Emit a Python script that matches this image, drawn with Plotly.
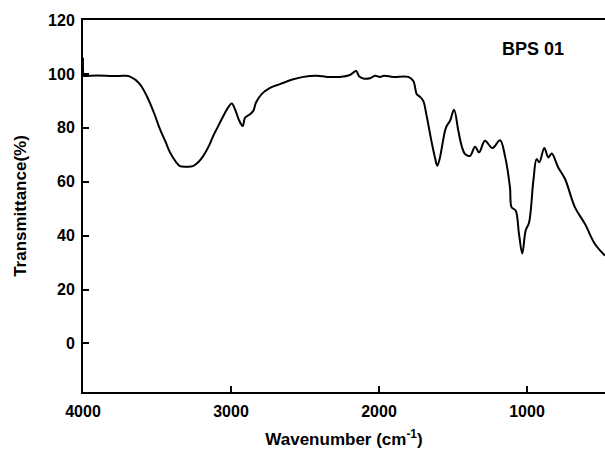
import plotly.graph_objects as go

wavenumber = [4000, 3995, 3990, 3900, 3800, 3720, 3682, 3620, 3570, 3520, 3480, 3440, 3412, 3370, 3345, 3300, 3257, 3220,
              3187, 3150, 3120, 3085, 3052, 3020, 2995, 2973, 2944, 2921, 2905, 2872, 2849, 2831,
              2793, 2736, 2669, 2579, 2511, 2421, 2353, 2264, 2196, 2155, 2133, 2106, 2061,
              2027, 1993, 1966, 1903, 1802, 1768, 1745, 1723, 1701, 1678, 1644, 1620, 1606,
              1590, 1576, 1554, 1543, 1520, 1493, 1464, 1440, 1419, 1385, 1351, 1324, 1284,
              1234, 1182, 1149, 1115, 1104, 1077, 1054, 1032, 1009, 986, 957, 935, 917, 883,
              856, 833, 789, 743, 676, 608, 541, 473]
transmittance = [106, 99.3, 99.2, 99.4, 99.2, 99.3, 99.0, 96.5, 91.9, 85.5, 79.5, 74.5, 70.9, 67.2, 65.8, 65.6, 65.8, 67.3,
                 69.6, 73.2, 77.0, 80.8, 84.4, 87.5, 89.0, 86.9, 82.6, 80.7, 83.8, 85.0, 86.3, 89.4,
                 92.5, 94.8, 96.2, 98.0, 98.9, 99.3, 98.9, 98.9, 99.6, 101.1, 99.0, 98.3, 98.4,
                 99.3, 98.9, 99.3, 98.9, 98.9, 97.4, 92.5, 91.5, 90.0, 84.4, 74.6, 68.5, 65.9,
                 68.5, 72.5, 78.9, 80.7, 82.6, 86.7, 78.9, 73.0, 70.3, 69.6, 73.0, 70.9, 75.2,
                 72.5, 75.4, 69.6, 57.9, 50.5, 49.3, 40.6, 33.4, 41.9, 44.9, 60.4, 68.4, 67.2, 72.5,
                 69.0, 70.5, 65.3, 61.0, 50.5, 44.3, 36.9, 32.6]

x_ticks = [4000, 3000, 2000, 1000]
y_ticks = [0, 20, 40, 60, 80, 100, 120]
label = "BPS 01"

fig = go.Figure()
fig.add_trace(go.Scatter(x=wavenumber, y=transmittance, mode="lines",
                         line=dict(color="black", width=2), line_shape="spline",
                         showlegend=False))

font = dict(family="Liberation Sans, Arial, sans-serif", color="black")
fig.update_layout(
    width=605, height=459,
    margin=dict(l=83, r=0, t=20, b=67),
    plot_bgcolor="white", paper_bgcolor="white",
    font=font,
    xaxis=dict(range=[4000, 473], tickvals=x_ticks, ticktext=[f"<b>{v}</b>" for v in x_ticks],
               ticks="inside", ticklen=6, tickwidth=1.5, tickcolor="black",
               showline=True, linecolor="black", linewidth=2, mirror=True,
               showgrid=False, zeroline=False, tickfont=dict(size=16), ticklabelstandoff=4,
               title=dict(text="<b>Wavenumber (cm<sup>-1</sup>)</b>", font=dict(size=17), standoff=14)),
    yaxis=dict(range=[-18, 120], tickvals=y_ticks, ticktext=[f"<b>{v}</b>" for v in y_ticks],
               ticks="inside", ticklen=6, tickwidth=1.5, tickcolor="black",
               showline=True, linecolor="black", linewidth=2, mirror=False,
               showgrid=False, zeroline=False, tickfont=dict(size=16), ticklabelstandoff=3,
               title=dict(text="<b>Transmittance(%)</b>", font=dict(size=17), standoff=17)),
    annotations=[dict(text=f"<b>{label}</b>", x=0.862, y=0.922, xref="paper", yref="paper",
                      xanchor="center", yanchor="middle",
                      showarrow=False, font=dict(size=18, color="black"))],
)

fig.write_html("out.html")
